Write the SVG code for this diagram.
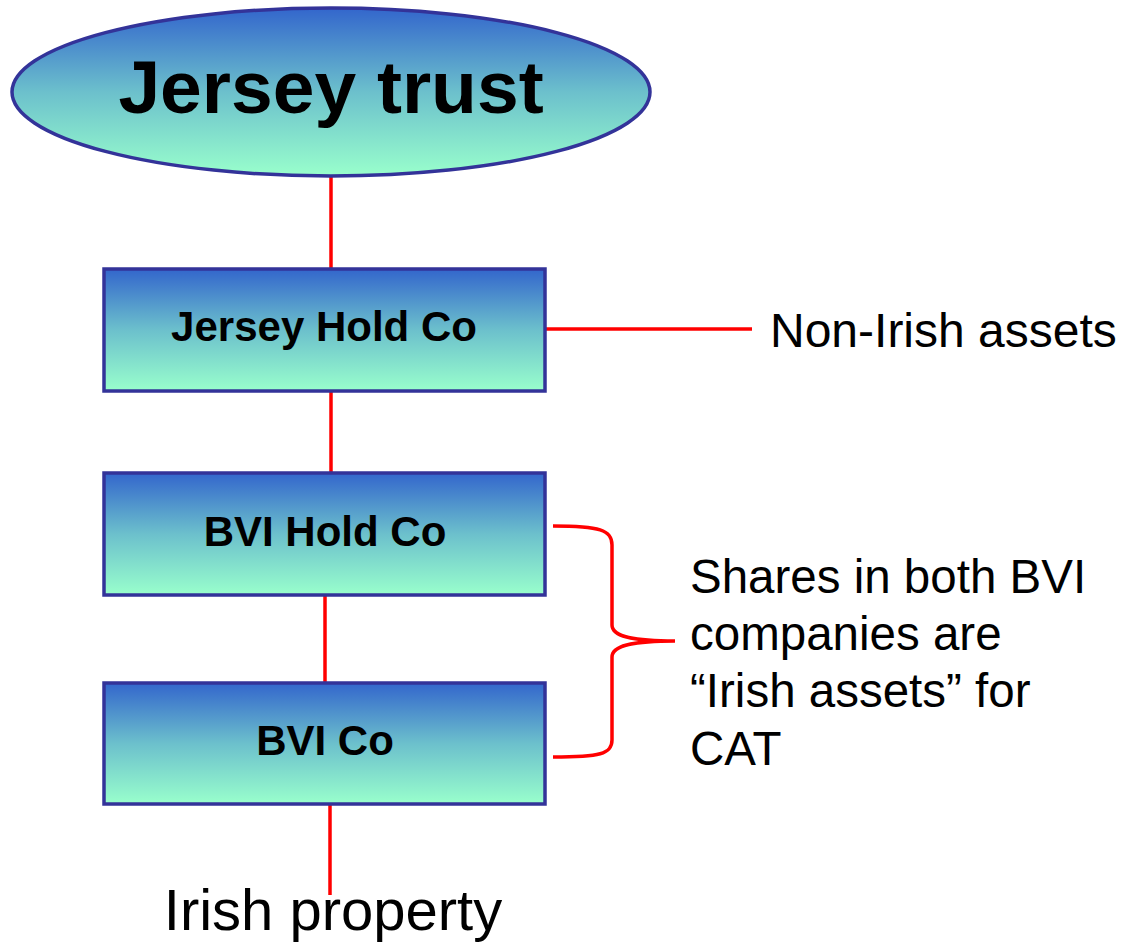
<svg xmlns="http://www.w3.org/2000/svg" width="1130" height="945" viewBox="0 0 1130 945">
<defs>
<linearGradient id="g" x1="0" y1="0" x2="0" y2="1">
<stop offset="0" stop-color="#3366cc"/>
<stop offset="0.5" stop-color="#6cc0cc"/>
<stop offset="1" stop-color="#99ffcc"/>
</linearGradient>
<style>
.node{fill:url(#g);stroke:#333399;stroke-width:3.5}
.lbl{font-family:"Liberation Sans",Arial,sans-serif;font-weight:bold;fill:#000;text-anchor:middle}
.txt{font-family:"Liberation Sans",Arial,sans-serif;fill:#000}
.con{stroke:#ff0000;stroke-width:3.5;fill:none}
</style>
</defs>
<rect width="1130" height="945" fill="#fff"/>
<g id="connectors">
<line class="con" x1="331" y1="177" x2="331" y2="268"/>
<line class="con" x1="331" y1="392" x2="331" y2="472"/>
<line class="con" x1="325" y1="596" x2="325" y2="682"/>
<line class="con" x1="330" y1="805" x2="330" y2="895"/>
<line class="con" x1="546" y1="329" x2="752" y2="329"/>
<path class="con" d="M553,526 C600,526 612,530 612,545 L612,625 C612,636 630,641 675,641 C630,641 612,646 612,657 L612,740 C612,754 600,757 553,757"/>
</g>
<g id="jersey-trust">
<ellipse class="node" cx="331" cy="92" rx="319" ry="84"/>
<text class="lbl" x="331" y="113" font-size="75">Jersey trust</text>
</g>
<g id="jersey-hold-co">
<rect class="node" x="104" y="269" width="441" height="122"/>
<text class="lbl" x="324" y="341" font-size="42">Jersey Hold Co</text>
</g>
<g id="bvi-hold-co">
<rect class="node" x="104" y="473" width="441" height="122"/>
<text class="lbl" x="325" y="546" font-size="42">BVI Hold Co</text>
</g>
<g id="bvi-co">
<rect class="node" x="104" y="683" width="441" height="121"/>
<text class="lbl" x="325" y="755" font-size="42">BVI Co</text>
</g>
<g id="non-irish-assets">
<text class="txt" x="770" y="347" font-size="48">Non-Irish assets</text>
</g>
<g id="shares-note">
<text class="txt" x="690" y="593" font-size="47.5">Shares in both BVI</text>
<text class="txt" x="690" y="650" font-size="47.5">companies are</text>
<text class="txt" x="690" y="707" font-size="47.5">“Irish assets” for</text>
<text class="txt" x="690" y="765" font-size="47.5">CAT</text>
</g>
<g id="irish-property">
<text class="txt" x="333" y="930" font-size="58" text-anchor="middle">Irish property</text>
</g>
</svg>
